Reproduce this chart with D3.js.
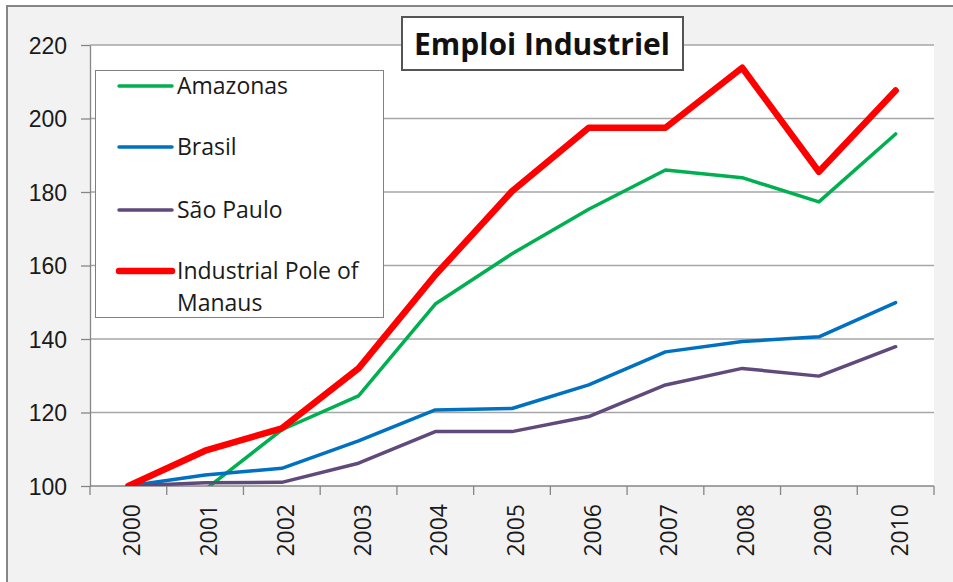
<!DOCTYPE html>
<html>
<head>
<meta charset="utf-8">
<title>Emploi Industriel</title>
<script src="https://d3js.org/d3.v7.min.js"></script>
<style>
    body { margin: 0; background: #fff; }
    svg { display: block; font-family: "Open Sans", sans-serif; }
    .grid line { stroke: #a6a6a6; stroke-width: 1.3px; }
    .axis path, .axis line { stroke: #868686; stroke-width: 1.3px; }
    .axis text { font-size: 23px; fill: #1a1a1a; }
</style>
</head>
<body>
<div id="chart"></div>
<script>
    // chart data
    const years = ["2000", "2001", "2002", "2003", "2004", "2005", "2006", "2007", "2008", "2009", "2010"];
    const amazonas = [100, 99, 115.3, 124.5, 149.5, 163.2, 175.3, 186, 183.9, 177.3, 195.8];
    const brasil = [100, 103, 104.8, 112.3, 120.7, 121.1, 127.5, 136.5, 139.3, 140.6, 149.9];
    const saoPaulo = [100, 100.9, 101, 106.2, 114.8, 114.8, 118.9, 127.5, 132, 129.9, 137.9];
    const industrialPole = [100, 109.6, 115.7, 132, 157.4, 180.2, 197.5, 197.5, 213.8, 185.5, 207.6];
    const yTicks = [100, 120, 140, 160, 180, 200, 220];

    const seriesNames = ["Amazonas", "Brasil", "São Paulo", "Industrial Pole of Manaus"];
    const seriesValues = [amazonas, brasil, saoPaulo, industrialPole];
    const colors = ["#00b050", "#0070c0", "#604a7b", "#ff0000"];
    const widths = [3.5, 3.5, 3.5, 6.5];

    const W = 953, H = 582;
    const plot = { left: 90, right: 934, top: 45, bottom: 486 };

    const svg = d3.select("#chart").append("svg")
        .attr("width", W)
        .attr("height", H);

    // chart area background and border
    svg.append("rect")
        .attr("x", 7).attr("y", 6)
        .attr("width", W + 10).attr("height", H + 10)
        .attr("fill", "#f2f2f2")
        .attr("stroke", "#868686")
        .attr("stroke-width", 2);

    // plot area
    svg.append("rect")
        .attr("x", plot.left).attr("y", plot.top)
        .attr("width", plot.right - plot.left)
        .attr("height", plot.bottom - plot.top)
        .attr("fill", "#fff");

    const x = d3.scaleBand()
        .domain(years)
        .range([plot.left, plot.right])
        .padding(0);

    const y = d3.scaleLinear()
        .domain([100, 220])
        .range([plot.bottom, plot.top]);

    // gridlines
    svg.append("g")
        .attr("class", "grid")
        .selectAll("line")
        .data(yTicks.slice(1))
        .join("line")
        .attr("x1", plot.left).attr("x2", plot.right)
        .attr("y1", d => y(d)).attr("y2", d => y(d));

    // y axis
    const yAxis = svg.append("g")
        .attr("class", "axis")
        .attr("transform", `translate(${plot.left},0)`)
        .call(d3.axisLeft(y).tickValues(yTicks).tickSize(9).tickPadding(14).tickSizeOuter(0));
    yAxis.selectAll("text").attr("dy", "0.36em");

    // x axis: line and ticks between categories (Excel style)
    const xAxis = svg.append("g").attr("class", "axis");
    xAxis.append("line")
        .attr("x1", plot.left).attr("x2", plot.right)
        .attr("y1", plot.bottom).attr("y2", plot.bottom);
    xAxis.selectAll(".tick")
        .data(years.map(d => x(d)).concat([plot.right]))
        .join("line")
        .attr("x1", d => d).attr("x2", d => d)
        .attr("y1", plot.bottom).attr("y2", plot.bottom + 9);
    xAxis.selectAll("text")
        .data(years)
        .join("text")
        .attr("transform", d => `translate(${x(d) + x.bandwidth() / 2 + 3},${plot.bottom + 18}) rotate(-90)`)
        .attr("text-anchor", "end")
        .attr("dominant-baseline", "central")
        .text(d => d);

    // lines
    const clip = svg.append("clipPath").attr("id", "plotclip")
        .append("rect")
        .attr("x", plot.left).attr("y", plot.top - 10)
        .attr("width", plot.right - plot.left)
        .attr("height", plot.bottom - plot.top + 10);

    const line = d3.line()
        .x((d, i) => x(years[i]) + x.bandwidth() / 2)
        .y(d => y(d));

    svg.append("g")
        .attr("clip-path", "url(#plotclip)")
        .selectAll("path")
        .data(seriesValues)
        .join("path")
        .attr("d", d => line(d))
        .attr("fill", "none")
        .attr("stroke", (d, i) => colors[i])
        .attr("stroke-width", (d, i) => widths[i])
        .attr("stroke-linejoin", "round")
        .attr("stroke-linecap", "round");

    // legend
    const legend = svg.append("g");
    legend.append("rect")
        .attr("x", 95.5).attr("y", 70.5)
        .attr("width", 288).attr("height", 247)
        .attr("fill", "#fff")
        .attr("stroke", "#808080")
        .attr("stroke-width", 1);

    const legendY = [86, 147, 210, 271];
    seriesNames.forEach((name, i) => {
        legend.append("line")
            .attr("x1", 119).attr("x2", 172)
            .attr("y1", legendY[i]).attr("y2", legendY[i])
            .attr("stroke", colors[i])
            .attr("stroke-width", widths[i])
            .attr("stroke-linecap", "round");
        const t = legend.append("text")
            .attr("x", 177)
            .attr("y", legendY[i])
            .attr("dy", "0.36em")
            .style("font-size", "23px")
            .style("fill", "#1a1a1a");
        if (i === 3) {
            t.text("Industrial Pole of");
            legend.append("text")
                .attr("x", 177).attr("y", legendY[i] + 32)
                .attr("dy", "0.36em")
                .style("font-size", "23px")
                .style("fill", "#1a1a1a")
                .text("Manaus");
        } else {
            t.text(name);
        }
    });

    // title box
    const title = svg.append("g");
    title.append("rect")
        .attr("x", 402).attr("y", 17)
        .attr("width", 281).attr("height", 53)
        .attr("fill", "#fff")
        .attr("stroke", "#555")
        .attr("stroke-width", 2);
    title.append("text")
        .attr("x", 542).attr("y", 44)
        .attr("text-anchor", "middle")
        .attr("dy", "0.36em")
        .style("font-size", "30px")
        .style("font-weight", "bold")
        .style("fill", "#111")
        .text("Emploi Industriel");
</script>
</body>
</html>
